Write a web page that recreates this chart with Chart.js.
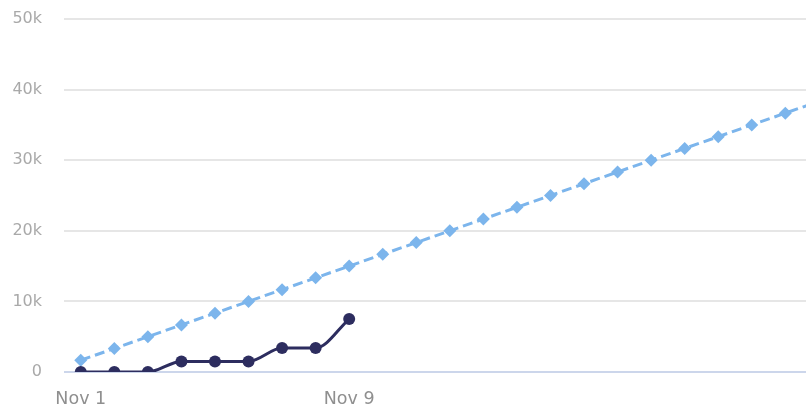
<!DOCTYPE html>
<html>
<head>
<meta charset="utf-8">
<script src="https://cdn.jsdelivr.net/npm/chart.js@4"></script>
<style>
  html, body { margin: 0; padding: 0; overflow: hidden; background: #fff; width: 806px; height: 413px; }
  canvas { display: block; }
</style>
</head>
<body>
<canvas id="c" width="1077" height="413"></canvas>
<script>
const categories = ["Nov 1","Nov 2","Nov 3","Nov 4","Nov 5","Nov 6","Nov 7","Nov 8","Nov 9","Nov 10",
  "Nov 11","Nov 12","Nov 13","Nov 14","Nov 15","Nov 16","Nov 17","Nov 18","Nov 19","Nov 20",
  "Nov 21","Nov 22","Nov 23","Nov 24","Nov 25","Nov 26","Nov 27","Nov 28","Nov 29","Nov 30"];
const targetValues = [1667, 3333, 5000, 6667, 8333, 10000, 11667, 13333, 15000, 16667,
  18333, 20000, 21667, 23333, 25000, 26667, 28333, 30000, 31667, 33333,
  35000, 36667, 38333, 40000, 41667, 43333, 45000, 46667, 48333, 50000];
const actualValues = [0, 0, 0, 1500, 1500, 1500, 3400, 3400, 7500];
const shownXLabels = ["Nov 1", "Nov 9"];
const yTickValues = [0, 10000, 20000, 30000, 40000, 50000];
const yTickLabels = ["0", "10k", "20k", "30k", "40k", "50k"];

new Chart(document.getElementById('c'), {
  type: 'line',
  data: {
    labels: categories,
    datasets: [
      {
        label: 'Actual',
        data: actualValues,
        borderColor: '#2d2d5f',
        backgroundColor: '#2d2d5f',
        borderWidth: 3,
        pointStyle: 'circle',
        pointRadius: 6,
        pointHoverRadius: 6,
        pointBorderWidth: 0,
        cubicInterpolationMode: 'monotone',
        order: 1
      },
      {
        label: 'Target',
        data: targetValues,
        borderColor: '#7cb5ec',
        backgroundColor: '#7cb5ec',
        borderWidth: 3,
        borderDash: [10, 5],
        pointStyle: 'rectRot',
        pointRadius: 6.5,
        pointHoverRadius: 6.5,
        pointBorderWidth: 0,
        tension: 0,
        order: 2
      }
    ]
  },
  options: {
    responsive: false,
    animation: false,
    devicePixelRatio: 1,
    layout: { padding: { top: 19, right: 0, bottom: 0, left: 0 } },
    plugins: { legend: { display: false }, tooltip: { enabled: false } },
    scales: {
      x: {
        type: 'category',
        offset: true,
        grid: { display: false, drawTicks: false },
        border: { display: false },
        afterFit(s) { s.height = 41; s.paddingLeft = 0; s.paddingRight = 0; },
        ticks: {
          autoSkip: false,
          maxRotation: 0,
          padding: 17,
          color: '#8f8f8f',
          font: { family: 'DejaVu Sans', size: 17.5 },
          callback(v, i) { const l = categories[i]; return shownXLabels.includes(l) ? l : ''; }
        }
      },
      y: {
        min: 0,
        max: 50000,
        afterFit(s) { s.width = 64; s.paddingTop = 0; s.paddingBottom = 0; },
        afterBuildTicks(s) { s.ticks = yTickValues.map(v => ({ value: v })); },
        grid: {
          drawTicks: false,
          lineWidth: 2,
          color(ctx) { return ctx.tick && ctx.tick.value === 0 ? '#ccd6eb' : '#e6e6e6'; }
        },
        border: { display: false },
        ticks: {
          padding: 22,
          color: '#a9a9a9',
          font: { family: 'DejaVu Sans', size: 16 },
          callback(v) { const i = yTickValues.indexOf(v); return i >= 0 ? yTickLabels[i] : ''; }
        }
      }
    }
  }
});
</script>
</body>
</html>
